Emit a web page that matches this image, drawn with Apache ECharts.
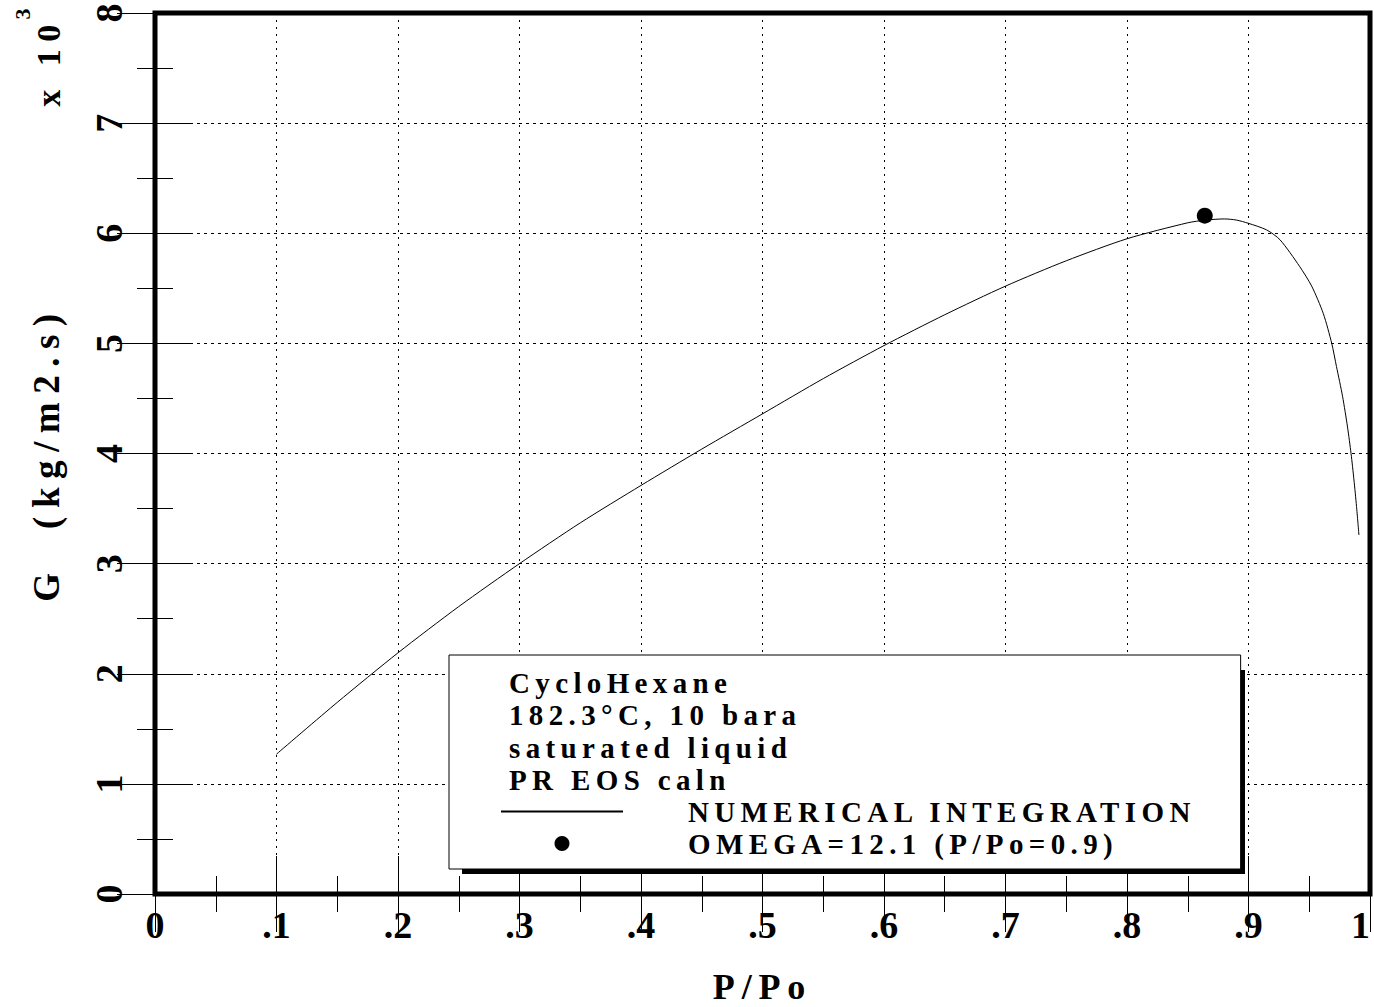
<!DOCTYPE html>
<html>
<head>
<meta charset="utf-8">
<script src="https://cdn.jsdelivr.net/npm/echarts@6/dist/echarts.min.js"></script>
<style>
  html, body { margin: 0; padding: 0; background: #fff; overflow: hidden; }
  #chart { width: 1374px; height: 1007px; }
  #chart text { letter-spacing: 0; }
  #chart text[style*="29px"] { letter-spacing: 0.185em; }
  #chart text[style*="36px"] { letter-spacing: 0.19em; }
  #chart text[style*="37px"] { letter-spacing: 0.23em; }
  #chart text[style*="34px"] { letter-spacing: 0.22em; }
</style>
</head>
<body>
<div id="chart"></div>
<script>
// ---- data ----
const xTickLabels = ['0', '.1', '.2', '.3', '.4', '.5', '.6', '.7', '.8', '.9', '1'];
const yTickLabels = ['0', '1', '2', '3', '4', '5', '6', '7', '8'];

// numerical integration curve: P/Po and G (x10^3 kg/m2.s)
const curveX = [0.10, 0.15, 0.20, 0.25, 0.30, 0.35, 0.40, 0.45, 0.50, 0.55, 0.60, 0.65, 0.70, 0.75, 0.80, 0.85, 0.865, 0.88, 0.89, 0.90, 0.915, 0.926, 0.942, 0.952, 0.9616, 0.9685, 0.9724, 0.9774, 0.9815, 0.9844, 0.9868, 0.9889, 0.9909];
const curveY = [1.27, 1.74, 2.19, 2.61, 3.00, 3.37, 3.71, 4.04, 4.36, 4.68, 4.98, 5.26, 5.52, 5.75, 5.95, 6.095, 6.12, 6.13, 6.12, 6.09, 6.03, 5.94, 5.70, 5.52, 5.27, 5.00, 4.79, 4.52, 4.24, 4.00, 3.76, 3.52, 3.26];

// omega-method point
const omegaX = [0.864];
const omegaY = [6.16];

const seriesNames = ['NUMERICAL INTEGRATION', 'OMEGA=12.1 (P/Po=0.9)'];
const noteLines = ['CycloHexane', '182.3°C, 10 bara', 'saturated liquid', 'PR EOS caln'];
const yAxisName = 'G  (kg/m2.s)';
const xAxisName = 'P/Po';
const yScaleNote = 'x 10';
const yScaleExp = '3';

// ---- chart ----
const FONT = "'Liberation Serif', 'Times New Roman', serif";
const chart = echarts.init(document.getElementById('chart'), null, { renderer: 'svg' });

const curveData = curveX.map((x, i) => [x, curveY[i]]);
const omegaData = omegaX.map((x, i) => [x, omegaY[i]]);

function baseX(pos, withLabels) {
  return {
    type: 'value', position: pos, min: 0, max: 1, interval: 0.1,
    axisLine: { show: false },
    axisTick: { show: true, inside: true, length: 38, lineStyle: { color: '#000', width: 1 } },
    minorTick: { show: true, splitNumber: 2, length: 18, lineStyle: { color: '#000', width: 1 } },
    axisLabel: withLabels ? {
      show: true, margin: 12, color: '#000', fontFamily: FONT, fontWeight: 'bold', fontSize: 38,
      alignMaxLabel: 'right',
      formatter: v => xTickLabels[Math.round(v * 10)]
    } : { show: false },
    splitLine: withLabels ? { show: true, lineStyle: { color: '#000', width: 1, type: [2, 5] } } : { show: false },
    name: withLabels ? xAxisName : '',
    nameLocation: 'middle', nameGap: 75,
    nameTextStyle: { color: '#000', fontFamily: FONT, fontWeight: 'bold', fontSize: 36 }
  };
}
function baseY(pos, withLabels) {
  return {
    type: 'value', position: pos, min: 0, max: 8, interval: 1,
    axisLine: { show: false },
    axisTick: { show: true, inside: true, length: 38, lineStyle: { color: '#000', width: 1 } },
    minorTick: { show: true, splitNumber: 2, length: 18, lineStyle: { color: '#000', width: 1 } },
    axisLabel: withLabels ? {
      show: true, margin: 27, rotate: 90, color: '#000', fontFamily: FONT, fontWeight: 'bold', fontSize: 38,
      formatter: v => yTickLabels[Math.round(v)]
    } : { show: false },
    splitLine: withLabels ? { show: true, lineStyle: { color: '#000', width: 1, type: [3, 4] } } : { show: false },
    name: withLabels ? yAxisName : '',
    nameLocation: 'middle', nameGap: 90, nameRotate: 90,
    nameTextStyle: { color: '#000', fontFamily: FONT, fontWeight: 'bold', fontSize: 37 }
  };
}

const option = {
  animation: false,
  backgroundColor: '#fff',
  grid: {
    left: 155, right: 4, top: 13, bottom: 113,
    outerBoundsMode: 'none', containLabel: false,
    show: true, borderColor: '#000', borderWidth: 5, backgroundColor: 'transparent'
  },
  xAxis: [baseX('bottom', true), baseX('top', false)],
  yAxis: [baseY('left', true), baseY('right', false)],
  legend: {
    show: true, orient: 'vertical', left: 449, top: 655,
    padding: [142, 156, 11, 51],
    itemGap: 3, itemWidth: 122, itemHeight: 15,
    backgroundColor: '#fff', borderColor: '#000', borderWidth: 1,
    textStyle: { color: '#000', fontFamily: FONT, fontWeight: 'bold', fontSize: 29, padding: [0, 0, 0, 60] },
    data: [
      { name: seriesNames[0], itemStyle: { opacity: 0, color: 'rgba(0,0,0,0)', borderWidth: 0 } },
      { name: seriesNames[1] }
    ],
    selectedMode: false
  },
  graphic: [
    { type: 'rect', z: 1, silent: true, shape: { x: 462, y: 670, width: 783, height: 204 }, style: { fill: '#000' } },
    ...noteLines.map((t, i) => ({
      type: 'text', z: 100, silent: true, x: 509, y: 682.5 + i * 32.6,
      style: { text: t, fill: '#000', font: "bold 29px " + FONT, textAlign: 'left', textVerticalAlign: 'middle' }
    })),
    { type: 'text', silent: true, x: 48, y: 62, rotation: Math.PI / 2,
      style: { text: yScaleNote, fill: '#000', font: "bold 34px " + FONT, textAlign: 'center', textVerticalAlign: 'middle' } },
    { type: 'text', silent: true, x: 22, y: 14, rotation: Math.PI / 2,
      style: { text: yScaleExp, fill: '#000', font: "bold 22px " + FONT, textAlign: 'center', textVerticalAlign: 'middle' } }
  ],
  series: [
    {
      name: seriesNames[0], type: 'line', data: curveData, smooth: 0.25,
      symbol: 'none', showSymbol: false,
      lineStyle: { color: '#000', width: 1 }, itemStyle: { color: '#000' },
      z: 3
    },
    {
      name: seriesNames[1], type: 'scatter', data: omegaData,
      symbol: 'circle', symbolSize: 16,
      itemStyle: { color: '#000', opacity: 1 },
      z: 4
    }
  ]
};
chart.setOption(option);
</script>
</body>
</html>
